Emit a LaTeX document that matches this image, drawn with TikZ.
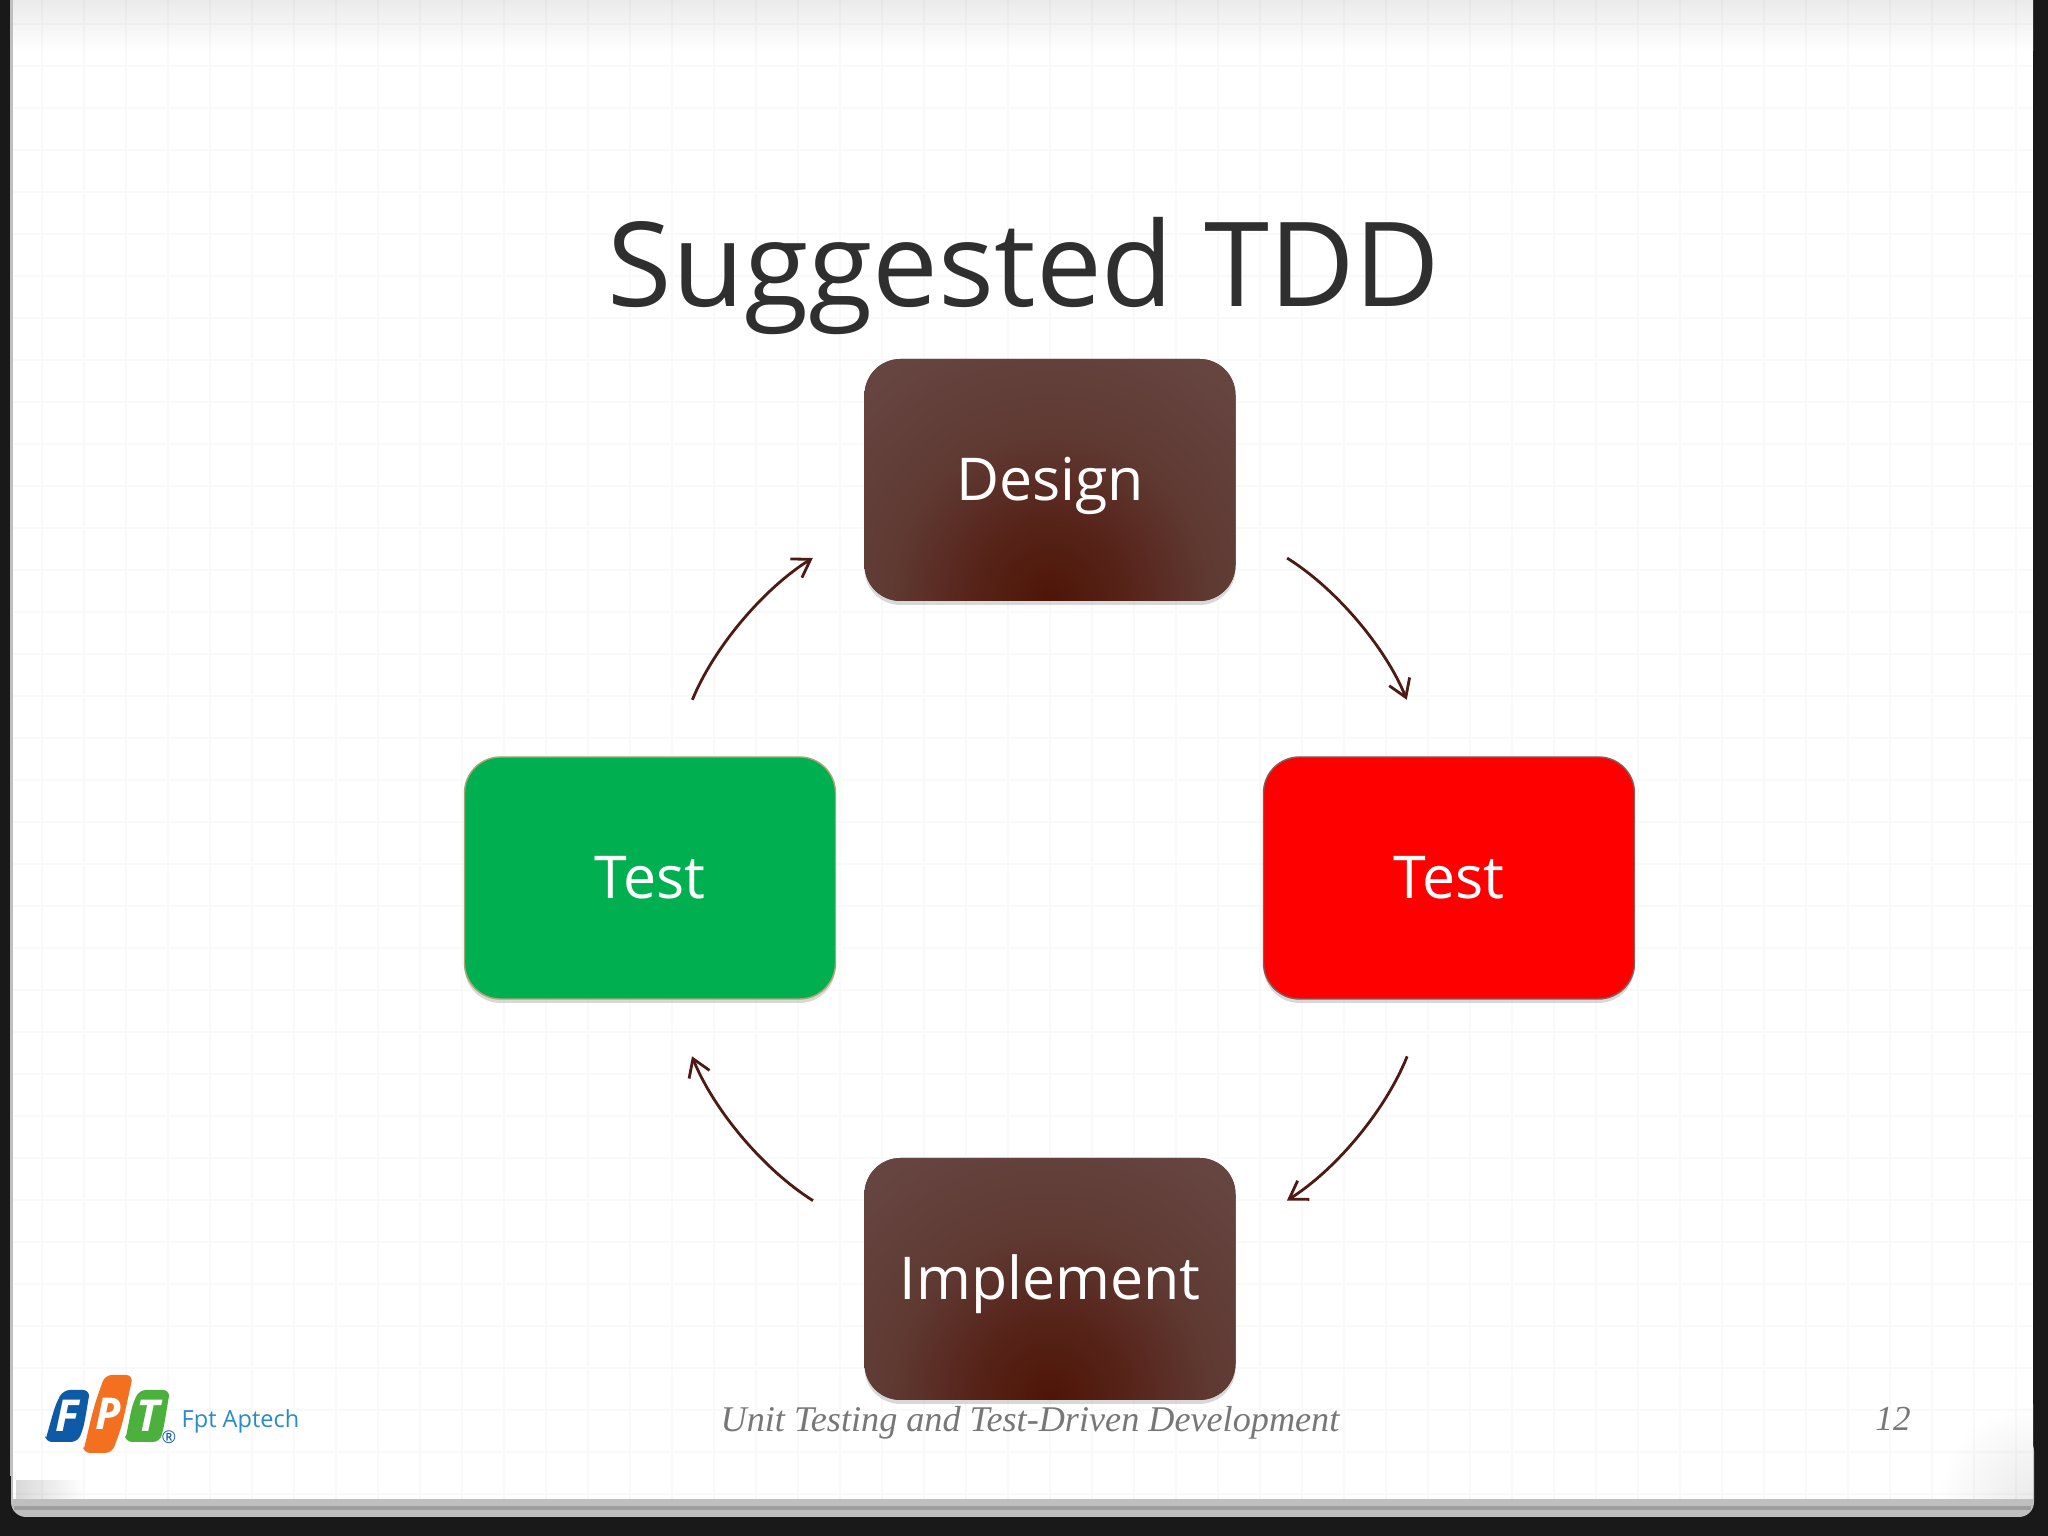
\documentclass[tikz,border=0pt]{standalone}
\usepackage{fontspec}
\setmainfont{Open Sans}
\newfontfamily\footfont{Liberation Serif}
\usetikzlibrary{arrows.meta,shadows}
\definecolor{inkgrey}{HTML}{2F2F2F}
\definecolor{footgrey}{HTML}{777777}
\definecolor{flowbrown}{HTML}{4D1A14}
\definecolor{boxglow}{HTML}{4E1506}
\definecolor{boxmid}{HTML}{57241A}
\definecolor{boxsoft}{HTML}{5F3A33}
\definecolor{boxbrown}{HTML}{674642}
\definecolor{boxgreen}{HTML}{00B050}
\definecolor{greenedge}{HTML}{A9A76E}
\definecolor{fptblue}{HTML}{0F5AA6}
\definecolor{fptorange}{HTML}{F37021}
\definecolor{fptgreen}{HTML}{4CB03C}
\definecolor{fpttext}{HTML}{2A8CC4}
\pgfdeclareradialshading{brownglow}{\pgfpoint{0bp}{0bp}}{color(0bp)=(boxglow); color(7bp)=(boxmid); color(14bp)=(boxsoft); color(25bp)=(boxbrown); color(50bp)=(boxbrown)}
\tikzset{
	cyclebox/.style={minimum width=3.71cm, minimum height=2.42cm, rounded corners=0.36cm,
		text=white, font=\fontsize{16.8}{20}\selectfont, text height=0.5cm, text depth=0.08cm,
		drop shadow={shadow xshift=0cm, shadow yshift=-0.04cm, opacity=0.3}},
	brownbox/.style={cyclebox, fill=boxbrown, path picture={
		\shade[shading=brownglow] (path picture bounding box.south) ellipse (2.9cm and 3cm);}},
	flow/.style={flowbrown, line width=0.8pt, -{Straight Barb[length=1.7mm,width=2.2mm]}, bend left=18},
	logoletter/.style={text=white, font=\fontsize{12.5}{14}\bfseries\itshape\selectfont},
}
\begin{document}
\begin{tikzpicture}
	\useasboundingbox (0,0) rectangle (20.48,15.36);
	% page and its frame
	\fill[black!90] (0,0) rectangle (20.48,15.36);
	\fill[black!25,rounded corners=0.15cm] (0.11,0.19) rectangle (20.34,1);
	\fill[black!38] (0.14,0.26) rectangle (20.31,0.30);
	\fill[black!25] (0.10,0.6) rectangle (0.14,15.36);
	\fill[white] (0.13,0.37) rectangle (20.33,15.36);
	\shade[top color=black!8,bottom color=white] (0.13,14.85) rectangle (20.33,15.36);
	\shade[left color=black!15,right color=white] (0.16,0.37) rectangle (0.85,0.55);
	\begin{scope}
		\clip (19.3,0.37) rectangle (20.33,1.5);
		\shade[inner color=black!8,outer color=white] (20.33,0.37) circle (0.95);
	\end{scope}
	\draw[black,opacity=0.025,step=0.42] (0.13,0.37) grid (20.33,15.36);

	% title
	\node[text=inkgrey,font=\fontsize{33.4}{40}\selectfont] (title) at (10.24,12.60) {Suggested TDD};

	% the cycle
	\node[brownbox] (design) at (10.50,10.56) {Design};
	\node[cyclebox,fill=red,draw=flowbrown!70,thin] (testred) at (14.49,6.58) {Test};
	\node[brownbox] (implement) at (10.50,2.57) {Implement};
	\node[cyclebox,fill=boxgreen,draw=greenedge,thin] (testgreen) at (6.50,6.58) {Test};

	\draw[flow,shorten <=0.60cm,shorten >=0.61cm] (design.-14) to (testred.99);
	\draw[flow,shorten <=0.61cm,shorten >=0.60cm] (testred.-99) to (implement.14);
	\draw[flow,shorten <=0.60cm,shorten >=0.61cm] (implement.166) to (testgreen.-81);
	\draw[flow,shorten <=0.61cm,shorten >=0.60cm] (testgreen.81) to (design.194);

	% logo
	\fill[fptblue,rounded corners=0.07cm] (0.45,0.94) -- (0.78,0.94) .. controls (0.84,1.1) .. (0.90,1.46) -- (0.63,1.46) .. controls (0.55,1.3) .. cycle;
	\fill[fptorange,rounded corners=0.07cm] (0.83,0.83) -- (1.12,0.83) .. controls (1.22,1.1) .. (1.33,1.61) -- (1.05,1.61) .. controls (0.94,1.3) .. cycle;
	\fill[fptgreen,rounded corners=0.07cm] (1.25,0.94) -- (1.60,0.94) .. controls (1.64,1.1) .. (1.70,1.46) -- (1.39,1.46) .. controls (1.32,1.3) .. cycle;
	\node[logoletter] (logof) at (0.67,1.20) {F};
	\node[logoletter] (logop) at (1.08,1.22) {P};
	\node[logoletter] (logot) at (1.48,1.20) {T};
	\node[text=fptblue,font=\fontsize{5}{6}\selectfont,inner sep=0pt] (logor) at (1.69,0.99) {®};
	\node[text=fpttext,font=\fontsize{6.7}{8}\selectfont,anchor=base west,inner sep=0pt] (aptech) at (1.81,1.08) {Fpt Aptech};

	% footer
	\node[text=footgrey,font=\footfont\fontsize{10.3}{12}\itshape\selectfont] (footer) at (10.30,1.13) {Unit Testing and Test-Driven Development};
	\node[text=footgrey,font=\footfont\fontsize{10}{12}\itshape\selectfont] (pageno) at (18.93,1.17) {12};
\end{tikzpicture}
\end{document}
